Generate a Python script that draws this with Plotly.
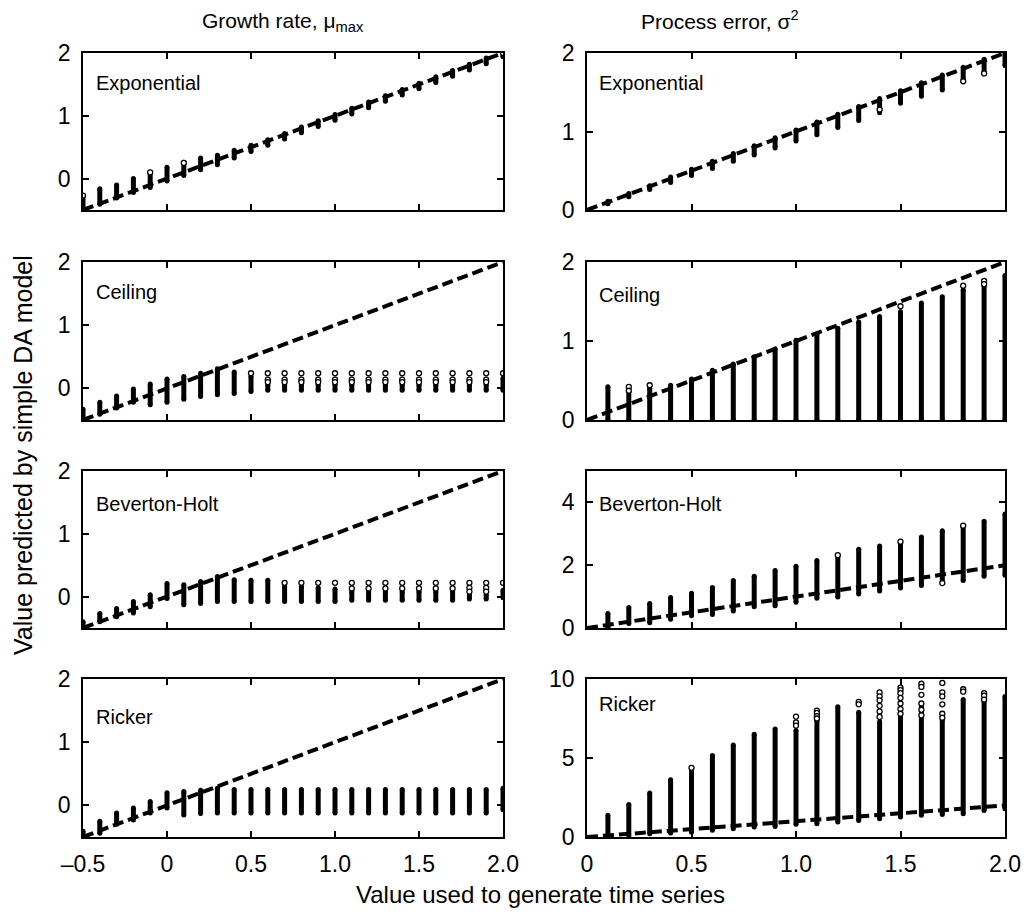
import plotly.graph_objects as go
from plotly.subplots import make_subplots

# ---- data -------------------------------------------------------------
# Generating values (x positions of each column of estimates)
GROWTH_X = [-0.5, -0.4, -0.3, -0.2, -0.1, 0.0, 0.1, 0.2, 0.3, 0.4, 0.5, 0.6, 0.7,
            0.8, 0.9, 1.0, 1.1, 1.2, 1.3, 1.4, 1.5, 1.6, 1.7, 1.8, 1.9, 2.0]
ERROR_X = [0.1, 0.2, 0.3, 0.4, 0.5, 0.6, 0.7, 0.8, 0.9, 1.0,
           1.1, 1.2, 1.3, 1.4, 1.5, 1.6, 1.7, 1.8, 1.9, 2.0]
ERROR_LINE = [0.0, 2.0]

# Growth rate estimates: low / high end of each dense column
exp_mu_lo = [-0.52, -0.41, -0.31, -0.22, -0.14, -0.04, 0.05, 0.14, 0.22, 0.33, 0.43, 0.53, 0.63,
             0.73, 0.83, 0.93, 1.03, 1.13, 1.23, 1.33, 1.43, 1.53, 1.63, 1.73, 1.83, 1.94]
exp_mu_hi = [-0.27, -0.16, -0.10, 0.00, 0.10, 0.18, 0.26, 0.33, 0.37, 0.45, 0.53, 0.62, 0.72,
             0.82, 0.92, 1.02, 1.12, 1.22, 1.32, 1.42, 1.52, 1.62, 1.72, 1.82, 1.92, 2.01]
exp_mu_out_x = [-0.5, -0.1, 0.1, 2.0]
exp_mu_out_y = [-0.27, 0.10, 0.25, 2.0]

ceil_mu_lo = [-0.52, -0.41, -0.31, -0.22, -0.26, -0.22, -0.17, -0.13, -0.10, -0.08, -0.05, -0.03, -0.03,
              -0.03, -0.03, -0.03, -0.03, -0.03, -0.03, -0.03, -0.03, -0.03, -0.03, -0.03, -0.03, -0.03]
ceil_mu_hi = [-0.33, -0.22, -0.12, -0.01, 0.07, 0.15, 0.19, 0.24, 0.31, 0.26, 0.19, 0.06, 0.06,
              0.06, 0.06, 0.06, 0.06, 0.06, 0.06, 0.06, 0.06, 0.06, 0.06, 0.06, 0.06, 0.16]
ceil_mu_out_x = [0.5, 0.6, 0.6, 0.6, 0.7, 0.7, 0.7, 0.8, 0.8, 0.8, 0.9, 0.9, 0.9, 1.0, 1.0, 1.0,
                 1.1, 1.1, 1.1, 1.2, 1.2, 1.2, 1.3, 1.3, 1.3, 1.4, 1.4, 1.4, 1.5, 1.5, 1.5,
                 1.6, 1.6, 1.6, 1.7, 1.7, 1.7, 1.8, 1.8, 1.8, 1.9, 1.9, 1.9, 2.0]
ceil_mu_out_y = [0.24, 0.24, 0.14, 0.10, 0.24, 0.14, 0.10, 0.24, 0.14, 0.10, 0.24, 0.14, 0.10, 0.24, 0.14, 0.10,
                 0.24, 0.14, 0.10, 0.24, 0.14, 0.10, 0.24, 0.14, 0.10, 0.24, 0.14, 0.10, 0.24, 0.14, 0.10,
                 0.24, 0.14, 0.10, 0.24, 0.14, 0.10, 0.24, 0.14, 0.10, 0.24, 0.14, 0.10, 0.24]

bh_mu_lo = [-0.52, -0.40, -0.32, -0.26, -0.16, -0.03, -0.13, -0.11, -0.08, -0.08, -0.08, -0.08, -0.08,
            -0.08, -0.08, -0.08, -0.06, -0.06, -0.06, -0.06, -0.06, -0.06, -0.06, -0.04, -0.04, -0.02]
bh_mu_hi = [-0.40, -0.27, -0.19, -0.08, 0.03, 0.21, 0.19, 0.24, 0.32, 0.27, 0.26, 0.26, 0.16,
            0.16, 0.14, 0.12, 0.08, 0.08, 0.08, 0.08, 0.08, 0.08, 0.08, 0.03, 0.03, 0.10]
bh_mu_out_x = [0.7, 0.8, 0.9, 1.0, 1.1, 1.1, 1.2, 1.2, 1.3, 1.3, 1.4, 1.4, 1.5, 1.5, 1.6, 1.6,
               1.7, 1.7, 1.8, 1.8, 1.8, 1.9, 1.9, 1.9, 2.0]
bh_mu_out_y = [0.22, 0.22, 0.22, 0.22, 0.22, 0.13, 0.22, 0.13, 0.22, 0.13, 0.22, 0.13, 0.22, 0.13, 0.22, 0.13,
               0.22, 0.13, 0.22, 0.14, 0.08, 0.22, 0.14, 0.08, 0.22]

rick_mu_lo = [-0.54, -0.44, -0.30, -0.23, -0.12, -0.04, -0.15, -0.13, -0.12, -0.12, -0.12, -0.12, -0.12,
              -0.12, -0.12, -0.12, -0.12, -0.12, -0.12, -0.12, -0.12, -0.12, -0.12, -0.12, -0.12, -0.07]
rick_mu_hi = [-0.41, -0.25, -0.12, -0.04, 0.06, 0.20, 0.22, 0.24, 0.27, 0.25, 0.25, 0.25, 0.25,
              0.25, 0.25, 0.25, 0.25, 0.25, 0.25, 0.25, 0.25, 0.25, 0.25, 0.25, 0.25, 0.27]

# Process error estimates
exp_s2_lo = [0.08, 0.17, 0.26, 0.35, 0.44, 0.53, 0.62, 0.70, 0.79, 0.88,
             0.96, 1.05, 1.14, 1.24, 1.36, 1.45, 1.53, 1.64, 1.74, 1.84]
exp_s2_hi = [0.11, 0.21, 0.31, 0.42, 0.52, 0.62, 0.72, 0.82, 0.92, 1.02,
             1.12, 1.22, 1.32, 1.42, 1.52, 1.62, 1.72, 1.82, 1.92, 2.01]
exp_s2_out_x = [1.4, 1.8, 1.9]
exp_s2_out_y = [1.28, 1.64, 1.74]

ceil_s2_lo = [0.0, 0.0, 0.0, 0.0, 0.0, 0.0, 0.0, 0.0, 0.0, 0.0,
              0.0, 0.0, 0.0, 0.0, 0.0, 0.0, 0.0, 0.0, 0.0, 0.0]
ceil_s2_hi = [0.42, 0.38, 0.40, 0.44, 0.52, 0.63, 0.71, 0.80, 0.90, 1.01,
              1.09, 1.16, 1.24, 1.31, 1.37, 1.48, 1.56, 1.65, 1.70, 1.83]
ceil_s2_out_x = [0.2, 0.2, 0.3, 1.5, 1.8, 1.9, 1.9]
ceil_s2_out_y = [0.42, 0.37, 0.44, 1.44, 1.70, 1.76, 1.72]

bh_s2_lo = [0.00, 0.14, 0.17, 0.28, 0.39, 0.43, 0.54, 0.68, 0.71, 0.82,
            0.95, 0.99, 1.08, 1.18, 1.27, 1.35, 1.43, 1.51, 1.65, 1.68]
bh_s2_hi = [0.46, 0.65, 0.78, 0.97, 1.11, 1.29, 1.51, 1.65, 1.83, 1.97,
            2.15, 2.32, 2.51, 2.61, 2.75, 2.90, 3.10, 3.26, 3.40, 3.63]
bh_s2_out_x = [1.2, 1.5, 1.7, 1.8]
bh_s2_out_y = [2.32, 2.75, 1.43, 3.26]

rick_s2_lo = [0.02, 0.10, 0.20, 0.25, 0.30, 0.42, 0.53, 0.63, 0.67, 0.80,
              0.84, 0.95, 1.05, 1.16, 1.26, 1.37, 1.43, 1.47, 1.68, 1.79]
rick_s2_hi = [1.37, 2.06, 2.78, 3.62, 4.30, 5.16, 5.83, 6.50, 6.84, 6.74,
              7.40, 8.25, 7.90, 7.30, 7.60, 8.30, 7.40, 8.70, 8.60, 8.90]
rick_s2_out_x = [0.5, 1.0, 1.0, 1.0, 1.1, 1.1, 1.1, 1.1, 1.3, 1.3,
                 1.4, 1.4, 1.4, 1.4, 1.4, 1.4, 1.5, 1.5, 1.5, 1.5, 1.5, 1.5, 1.5,
                 1.6, 1.6, 1.6, 1.6, 1.6, 1.6, 1.7, 1.7, 1.7, 1.7, 1.7, 1.7,
                 1.8, 1.8, 1.9, 1.9, 1.9]
rick_s2_out_y = [4.38, 7.62, 7.25, 7.05, 8.00, 7.85, 7.65, 7.50, 8.55, 8.40,
                 9.15, 8.90, 8.65, 8.30, 7.95, 7.60, 9.45, 9.30, 9.10, 8.80, 8.45, 8.10, 7.80,
                 9.70, 9.50, 9.00, 8.45, 8.05, 7.70, 9.75, 9.15, 8.90, 8.40, 7.80, 7.55,
                 9.35, 9.20, 9.10, 8.95, 8.70]

MODELS = ["Exponential", "Ceiling", "Beverton-Holt", "Ricker"]

# ---- figure -------------------------------------------------------------
FONT = "Liberation Sans, Arial, sans-serif"
fig = make_subplots(rows=4, cols=2, horizontal_spacing=0.08, vertical_spacing=0.05)


def columns(xs, lo, hi):
    sx, sy = [], []
    for x, a, b in zip(xs, lo, hi):
        sx += [x, x, None]
        sy += [a, b, None]
    return sx, sy


def add_panel(row, col, xs, lo, hi, line_xy, out_x=None, out_y=None):
    lx, ly = line_xy
    fig.add_trace(go.Scatter(x=lx, y=ly, mode="lines",
                             line=dict(color="black", width=4, dash="11px,5px"),
                             hoverinfo="skip", showlegend=False), row=row, col=col)
    sx, sy = columns(xs, lo, hi)
    fig.add_trace(go.Scatter(x=sx, y=sy, mode="lines+markers",
                             line=dict(color="black", width=5),
                             marker=dict(color="black", size=5),
                             showlegend=False), row=row, col=col)
    if out_x:
        fig.add_trace(go.Scatter(x=out_x, y=out_y, mode="markers",
                                 marker=dict(symbol="circle", size=5, color="white",
                                             line=dict(color="black", width=1.3)),
                                 showlegend=False), row=row, col=col)


g_line = ([GROWTH_X[0], GROWTH_X[-1]], [GROWTH_X[0], GROWTH_X[-1]])
e_line = (ERROR_LINE, ERROR_LINE)

add_panel(1, 1, GROWTH_X, exp_mu_lo, exp_mu_hi, g_line, exp_mu_out_x, exp_mu_out_y)
add_panel(2, 1, GROWTH_X, ceil_mu_lo, ceil_mu_hi, g_line, ceil_mu_out_x, ceil_mu_out_y)
add_panel(3, 1, GROWTH_X, bh_mu_lo, bh_mu_hi, g_line, bh_mu_out_x, bh_mu_out_y)
add_panel(4, 1, GROWTH_X, rick_mu_lo, rick_mu_hi, g_line)

add_panel(1, 2, ERROR_X, exp_s2_lo, exp_s2_hi, e_line, exp_s2_out_x, exp_s2_out_y)
add_panel(2, 2, ERROR_X, ceil_s2_lo, ceil_s2_hi, e_line, ceil_s2_out_x, ceil_s2_out_y)
add_panel(3, 2, ERROR_X, bh_s2_lo, bh_s2_hi, e_line, bh_s2_out_x, bh_s2_out_y)
add_panel(4, 2, ERROR_X, rick_s2_lo, rick_s2_hi, e_line, rick_s2_out_x, rick_s2_out_y)

# panel placement (paper fractions)
W, H = 1036, 913
col_dom = [(83 / W, 503 / W), (587 / W, 1005 / W)]
row_px = [(53, 210), (262, 420), (471, 628), (679, 837)]
row_dom = [(1 - b / H, 1 - t / H) for t, b in row_px]

axis_style = dict(showline=True, linecolor="black", linewidth=1.5, mirror="ticks",
                  ticks="inside", ticklen=6, tickwidth=1.5, tickcolor="black",
                  showgrid=False, zeroline=False, automargin=False,
                  tickfont=dict(family=FONT, size=23, color="black"),
                  ticklabelstandoff=6)

right_y = [(0, 2, [0, 1, 2]), (0, 2, [0, 1, 2]), (0, 5, [0, 2, 4]), (0, 10, [0, 5, 10])]
label_y = [[0.81, 0.81], [0.81, 0.79], [0.79, 0.79], [0.76, 0.84]]

for r in range(4):
    for c in range(2):
        fig.update_xaxes(domain=col_dom[c], row=r + 1, col=c + 1, **axis_style)
        fig.update_yaxes(domain=row_dom[r], row=r + 1, col=c + 1, **axis_style)
        if c == 0:
            fig.update_xaxes(range=[-0.5, 2.0], tickvals=[-0.5, 0, 0.5, 1, 1.5, 2],
                             ticktext=["–0.5", "0", "0.5", "1.0", "1.5", "2.0"],
                             row=r + 1, col=1)
            fig.update_yaxes(range=[-0.5, 2.0], tickvals=[0, 1, 2], row=r + 1, col=1)
        else:
            lo, hi, tv = right_y[r]
            fig.update_xaxes(range=[0, 2.0], tickvals=[0, 0.5, 1, 1.5, 2],
                             ticktext=["0", "0.5", "1.0", "1.5", "2.0"],
                             row=r + 1, col=2)
            fig.update_yaxes(range=[lo, hi], tickvals=tv, row=r + 1, col=2)
        if r < 3:
            fig.update_xaxes(showticklabels=False, row=r + 1, col=c + 1)

annotations = []
axis_idx = 1
for r in range(4):
    for c in range(2):
        suffix = "" if axis_idx == 1 else str(axis_idx)
        annotations.append(dict(text=MODELS[r], xref=f"x{suffix} domain", yref=f"y{suffix} domain",
                                x=0.025, y=label_y[r][c], xanchor="left", yanchor="middle",
                                showarrow=False, font=dict(family=FONT, size=20, color="black")))
        axis_idx += 1

annotations += [
    dict(text="Growth rate, μ<sub>max</sub>", xref="paper", yref="paper",
         x=283 / W, y=1 - 22 / H, xanchor="center", yanchor="middle", showarrow=False,
         font=dict(family=FONT, size=21, color="black")),
    dict(text="Process error, σ<sup>2</sup>", xref="paper", yref="paper",
         x=720 / W, y=1 - 20 / H, xanchor="center", yanchor="middle", showarrow=False,
         font=dict(family=FONT, size=21, color="black")),
    dict(text="Value used to generate time series", xref="paper", yref="paper",
         x=540 / W, y=1 - 894 / H, xanchor="center", yanchor="middle", showarrow=False,
         font=dict(family=FONT, size=24, color="black")),
    dict(text="Value predicted by simple DA model", xref="paper", yref="paper",
         x=23 / W, y=1 - 455 / H, xanchor="center", yanchor="middle", textangle=-90,
         showarrow=False, font=dict(family=FONT, size=25, color="black")),
]

fig.update_layout(width=W, height=H, margin=dict(l=0, r=0, t=0, b=0, autoexpand=False),
                  paper_bgcolor="white", plot_bgcolor="white",
                  annotations=annotations, showlegend=False,
                  font=dict(family=FONT, color="black"))

fig.write_html("out.html")
